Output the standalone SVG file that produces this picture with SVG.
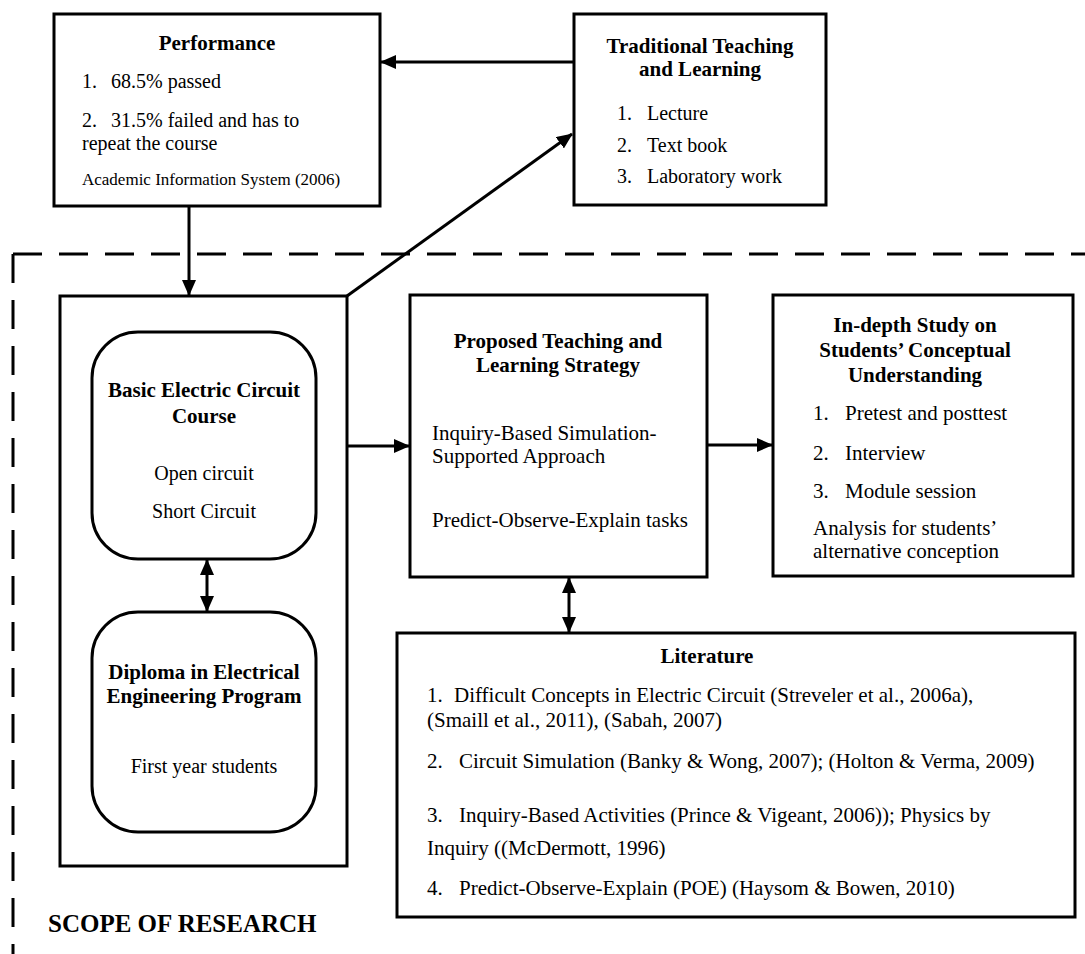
<svg xmlns="http://www.w3.org/2000/svg" width="1085" height="954" viewBox="0 0 1085 954">
<style>
text{font-family:"Liberation Serif","Times New Roman",serif;fill:#000}
.t{font-size:21px;font-weight:bold;text-anchor:middle}
.b{font-size:20px}
.r{font-size:21px}
.s{font-size:17px}
.box{fill:#fff;stroke:#000;stroke-width:3}
.ln{fill:none;stroke:#000;stroke-width:3}
.dash{fill:none;stroke:#000;stroke-width:3;stroke-dasharray:29 17}
</style>
<defs>
<marker id="ah" markerUnits="userSpaceOnUse" markerWidth="16" markerHeight="14" refX="15" refY="7" orient="auto-start-reverse">
<path d="M0,0 L16,7 L0,14 z" fill="#000"/>
</marker>
</defs>
<g id="scope">
<path class="dash" d="M13,254 H1085"/>
<path class="dash" d="M13,254 V954"/>
<text x="48" y="932" style="font-size:25px;font-weight:bold">SCOPE OF RESEARCH</text>
</g>
<g id="performance">
<rect class="box" x="54" y="14" width="326" height="192"/>
<text class="t" x="217" y="50">Performance</text>
<text class="b" y="88"><tspan x="82">1.</tspan><tspan x="111">68.5% passed</tspan></text>
<text class="b" y="127"><tspan x="82">2.</tspan><tspan x="111">31.5% failed and has to</tspan></text>
<text class="b" x="82" y="150">repeat the course</text>
<text class="s" x="82" y="185">Academic Information System (2006)</text>
</g>
<g id="traditional">
<rect class="box" x="574" y="14" width="252" height="191"/>
<text class="t" x="700" y="53">Traditional Teaching</text>
<text class="t" x="700" y="76">and Learning</text>
<text class="b" y="120"><tspan x="617">1.</tspan><tspan x="647">Lecture</tspan></text>
<text class="b" y="152"><tspan x="617">2.</tspan><tspan x="647">Text book</tspan></text>
<text class="b" y="183"><tspan x="617">3.</tspan><tspan x="647">Laboratory work</tspan></text>
</g>
<g id="course-program">
<rect class="box" x="60" y="296" width="287" height="570"/>
</g>
<g id="basic-circuit">
<rect class="box" x="92" y="332" width="224" height="227" rx="46"/>
<text class="t" x="204" y="397">Basic Electric Circuit</text>
<text class="t" x="204" y="423">Course</text>
<text class="b" x="204" y="480" text-anchor="middle">Open circuit</text>
<text class="b" x="204" y="518" text-anchor="middle">Short Circuit</text>
</g>
<g id="diploma">
<rect class="box" x="92" y="612" width="224" height="220" rx="46"/>
<text class="t" x="204" y="679">Diploma in Electrical</text>
<text class="t" x="204" y="703">Engineering Program</text>
<text class="b" x="204" y="773" text-anchor="middle">First year students</text>
</g>
<g id="proposed">
<rect class="box" x="410" y="295" width="297" height="282"/>
<text class="t" x="558" y="348">Proposed Teaching and</text>
<text class="t" x="558" y="372">Learning Strategy</text>
<text class="r" x="432" y="440">Inquiry-Based Simulation-</text>
<text class="r" x="432" y="463">Supported Approach</text>
<text class="r" x="432" y="527">Predict-Observe-Explain tasks</text>
</g>
<g id="indepth">
<rect class="box" x="773" y="295" width="300" height="281"/>
<text class="t" x="915" y="332">In-depth Study on</text>
<text class="t" x="915" y="357">Students’ Conceptual</text>
<text class="t" x="915" y="382">Understanding</text>
<text class="r" y="420"><tspan x="813">1.</tspan><tspan x="845">Pretest and posttest</tspan></text>
<text class="r" y="460"><tspan x="813">2.</tspan><tspan x="845">Interview</tspan></text>
<text class="r" y="498"><tspan x="813">3.</tspan><tspan x="845">Module session</tspan></text>
<text class="r" x="813" y="535">Analysis for students’</text>
<text class="r" x="813" y="558">alternative conception</text>
</g>
<g id="literature">
<rect class="box" x="397" y="633" width="678" height="284"/>
<text class="t" x="707" y="663">Literature</text>
<text class="r" y="702"><tspan x="427">1.</tspan><tspan x="454">Difficult Concepts in Electric Circuit (Streveler et al., 2006a),</tspan></text>
<text class="r" x="427" y="727">(Smaill et al., 2011), (Sabah, 2007)</text>
<text class="r" y="768"><tspan x="427">2.</tspan><tspan x="459">Circuit Simulation (Banky &amp; Wong, 2007); (Holton &amp; Verma, 2009)</tspan></text>
<text class="r" y="822"><tspan x="427">3.</tspan><tspan x="459">Inquiry-Based Activities (Prince &amp; Vigeant, 2006)); Physics by</tspan></text>
<text class="r" x="427" y="855">Inquiry ((McDermott, 1996)</text>
<text class="r" y="895"><tspan x="427">4.</tspan><tspan x="459">Predict-Observe-Explain (POE) (Haysom &amp; Bowen, 2010)</tspan></text>
</g>
<g id="connectors">
<line class="ln" x1="574" y1="62" x2="381" y2="62" marker-end="url(#ah)"/>
<line class="ln" x1="347" y1="296" x2="572" y2="134" marker-end="url(#ah)"/>
<line class="ln" x1="189" y1="206" x2="189" y2="295" marker-end="url(#ah)"/>
<line class="ln" x1="347" y1="446" x2="409" y2="446" marker-end="url(#ah)"/>
<line class="ln" x1="707" y1="445" x2="772" y2="445" marker-end="url(#ah)"/>
<line class="ln" x1="207" y1="560" x2="207" y2="611" marker-start="url(#ah)" marker-end="url(#ah)"/>
<line class="ln" x1="569" y1="578" x2="569" y2="632" marker-start="url(#ah)" marker-end="url(#ah)"/>
</g>
</svg>
